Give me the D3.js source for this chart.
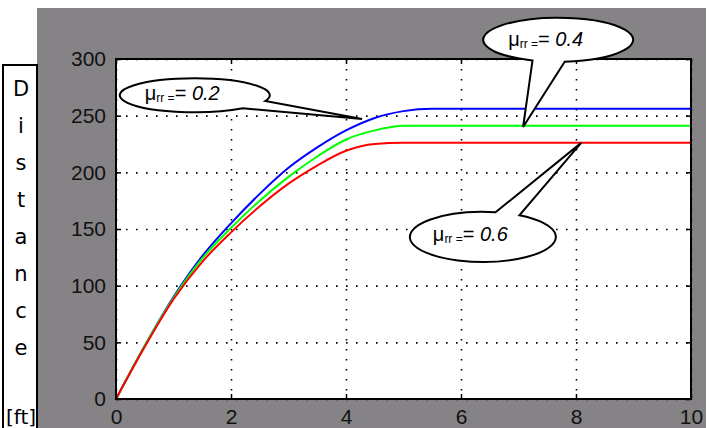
<!DOCTYPE html>
<html>
<head>
<meta charset="utf-8">
<script src="https://cdn.jsdelivr.net/npm/d3@7"></script>
<style>
  body { margin: 0; background: #fff; }
  svg { display: block; }
</style>
</head>
<body>
<div id="my_dataviz"></div>
<script>
// chart data
var times   = [0, 0.5, 1, 1.5, 2, 2.5, 3, 3.5, 4, 4.5, 5, 5.5, 10];
var dist02  = [0, 47, 90, 126, 155, 181, 204, 222, 237, 248, 254, 256, 256];
var dist04  = [0, 47, 89, 124, 151, 175, 196, 214, 229, 237, 241, 241, 241];
var dist06  = [0, 46, 88, 121, 147, 170, 190, 206, 219, 225, 226, 226, 226];
var xTicks  = [0, 2, 4, 6, 8, 10];
var yTicks  = [0, 50, 100, 150, 200, 250, 300];
var labelLetters = ["D", "i", "s", "t", "a", "n", "c", "e"];
var labelUnit = "[ft]";

// callouts: mu value, bubble centre and tip in data units
var calloutMu  = ["0.2", "0.4", "0.6"];
var calloutCx  = [1.37, 7.69, 6.38];
var calloutCy  = [268, 317, 143];
var calloutTx  = [4.28, 7.08, 8.09];
var calloutTy  = [247, 240, 226];

// set the dimensions and margins of the graph
var W = 714, H = 428;
var margin = {top: 59, right: 23, bottom: 29, left: 116},
    width = W - margin.left - margin.right,
    height = H - margin.top - margin.bottom;

var root = d3.select("#my_dataviz")
  .append("svg")
    .attr("width", W)
    .attr("height", H);

// grey figure background
root.append("rect")
  .attr("x", 37).attr("y", 8)
  .attr("width", 669).attr("height", H - 8)
  .attr("fill", "#858385");

var svg = root.append("g")
  .attr("transform", "translate(" + margin.left + "," + margin.top + ")");

svg.append("rect")
  .attr("width", width).attr("height", height)
  .attr("fill", "#fff");

var x = d3.scaleLinear().domain([0, 10]).range([0, width]);
var y = d3.scaleLinear().domain([0, 300]).range([height, 0]);

// dotted grid
svg.append("g")
  .attr("class", "grid")
  .call(d3.axisBottom(x).tickValues(xTicks).tickSize(height).tickFormat(""));
svg.append("g")
  .attr("class", "grid")
  .call(d3.axisLeft(y).tickValues(yTicks).tickSize(-width).tickFormat(""));
svg.selectAll(".grid .domain").remove();
svg.selectAll(".grid line")
  .attr("stroke", "#000")
  .attr("stroke-width", 1.6)
  .attr("stroke-dasharray", "1.6,8.4");

// lines
var series = [
  {vals: dist02, color: "#0000ff"},
  {vals: dist04, color: "#00ff00"},
  {vals: dist06, color: "#ff0000"}
];
var line = d3.line()
  .curve(d3.curveMonotoneX)
  .x(function(d, i) { return x(times[i]); })
  .y(function(d) { return y(d); });
series.forEach(function(s) {
  svg.append("path")
    .datum(s.vals)
    .attr("fill", "none")
    .attr("stroke", s.color)
    .attr("stroke-width", 2)
    .attr("d", line);
});

// axes with inward ticks
var fontAxis = "'Liberation Sans', Arial, sans-serif";
var xAxis = svg.append("g")
  .attr("transform", "translate(0," + height + ")")
  .call(d3.axisBottom(x).tickValues(xTicks).tickSizeInner(-5).tickSizeOuter(0).tickPadding(8));
var yAxis = svg.append("g")
  .call(d3.axisLeft(y).tickValues(yTicks).tickSizeInner(-5).tickSizeOuter(0).tickPadding(10));
svg.append("g")
  .call(d3.axisTop(x).tickValues(xTicks).tickSizeInner(-5).tickSizeOuter(0).tickFormat(""));
svg.append("g")
  .attr("transform", "translate(" + width + ",0)")
  .call(d3.axisRight(y).tickValues(yTicks).tickSizeInner(-5).tickSizeOuter(0).tickFormat(""));
svg.selectAll(".domain").attr("stroke", "none");
svg.selectAll(".tick line").filter(function() { return !this.closest(".grid"); })
  .attr("stroke", "#000").attr("stroke-width", 1.5);
svg.selectAll(".tick text")
  .attr("fill", "#111")
  .style("font-family", fontAxis)
  .style("font-size", "21px");
xAxis.selectAll(".tick text").attr("dy", "0.8em");

// box
svg.append("rect")
  .attr("width", width).attr("height", height)
  .attr("fill", "none")
  .attr("stroke", "#000")
  .attr("stroke-width", 2);

// callouts
var fontCall = "'Liberation Sans', Arial, sans-serif";
function bubblePath(cx, cy, rx, ry, a1, a2, tx, ty) {
  var r = Math.PI / 180;
  var ax = cx + rx * Math.cos(a2 * r), ay = cy + ry * Math.sin(a2 * r);
  var bx = cx + rx * Math.cos(a1 * r), by = cy + ry * Math.sin(a1 * r);
  return "M" + ax + "," + ay +
    " A" + rx + "," + ry + " 0 1 1 " + bx + "," + by +
    " L" + tx + "," + ty + " Z";
}
var bubbleRx = [75, 75, 73], bubbleRy = [17, 22, 25];
var tailA1 = [20, 85, -80], tailA2 = [50, 110, -60];
var textDy = [5, 6, 4];
calloutMu.forEach(function(mu, i) {
  var cx = x(calloutCx[i]), cy = y(calloutCy[i]);
  svg.append("path")
    .attr("d", bubblePath(cx, cy, bubbleRx[i], bubbleRy[i], tailA1[i], tailA2[i],
                          x(calloutTx[i]), y(calloutTy[i])))
    .attr("fill", "#fff")
    .attr("stroke", "#000")
    .attr("stroke-width", 2)
    .attr("stroke-linejoin", "miter");
  var t = svg.append("text")
    .attr("x", cx - 50).attr("y", cy + textDy[i])
    .style("font-family", fontCall)
    .style("font-size", "20px")
    .attr("fill", "#000");
  t.append("tspan").text("\u03bc");
  t.append("tspan").attr("dy", 2).style("font-size", "12px").text("rr =");
  t.append("tspan").attr("dy", -2).text("= ");
  t.append("tspan").style("font-style", "italic").text(mu);
});

// y label box
root.append("rect")
  .attr("x", 3).attr("y", 65)
  .attr("width", 34).attr("height", 380)
  .attr("fill", "#fff")
  .attr("stroke", "#000")
  .attr("stroke-width", 2);
var fontLab = "'Comic Sans MS', 'DejaVu Sans', sans-serif";
labelLetters.forEach(function(ch, i) {
  root.append("text")
    .attr("x", 21).attr("y", 96 + i * 37)
    .attr("text-anchor", "middle")
    .style("font-family", fontLab)
    .style("font-size", "21px")
    .text(ch);
});
root.append("text")
  .attr("x", 21).attr("y", 424)
  .attr("text-anchor", "middle")
  .style("font-family", fontLab)
  .style("font-size", "20px")
  .text(labelUnit);
</script>
</body>
</html>
